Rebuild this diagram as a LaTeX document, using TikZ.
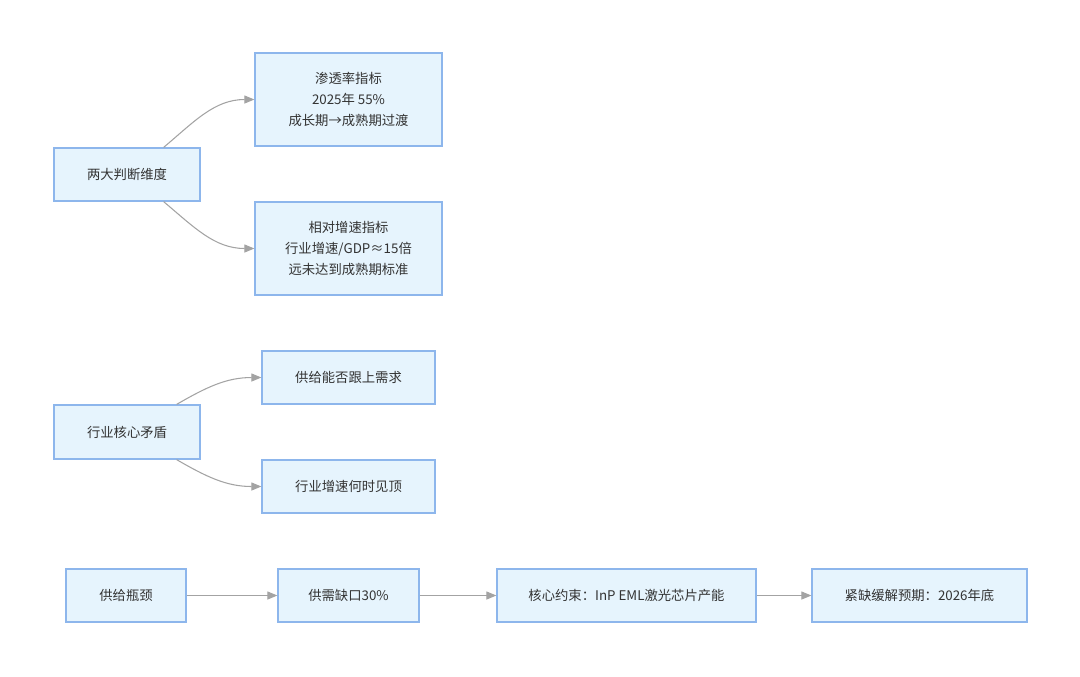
\documentclass[tikz,border=0pt]{standalone}
\usepackage{fontspec}
\setmainfont{Noto Sans CJK SC}
\usetikzlibrary{arrows.meta}
\definecolor{boxfill}{HTML}{E6F4FD}
\definecolor{boxline}{HTML}{8DB6EC}
\definecolor{arrline}{HTML}{A3A3A3}
\definecolor{txt}{HTML}{333333}

\begin{document}
\begin{tikzpicture}[x=0.75pt,y=-0.75pt,
box/.style={draw=boxline, fill=boxfill, line width=0.9pt, text=txt, align=center, inner sep=0pt,
  font=\fontsize{10}{15.75}\selectfont},
arr/.style={draw=arrline, line width=0.8pt, -{Triangle[length=7.5pt,width=6pt]}}]
\useasboundingbox (0,0) rectangle (1080,676);

% first group
\node[box, minimum width=109.5pt, minimum height=39.75pt] (dim) at (127,174.5) {两大判断维度};
\node[box, minimum width=140.25pt, minimum height=69.75pt] (pen) at (348.5,99.5)
  {渗透率指标\\2025年 55\%\\成长期→成熟期过渡};
\node[box, minimum width=140.25pt, minimum height=69.75pt] (rel) at (348.5,248.5)
  {相对增速指标\\行业增速/GDP≈15倍\\远未达到成熟期标准};
\draw[arr] ([xshift=-27.75pt]dim.north east) to[out=40,in=180] (pen.west);
\draw[arr] ([xshift=-27.75pt]dim.south east) to[out=-40,in=180] (rel.west);

% second group
\node[box, minimum width=109.5pt, minimum height=40.5pt] (core) at (127,432) {行业核心矛盾};
\node[box, minimum width=129.75pt, minimum height=39.75pt] (sup) at (348.5,377.5) {供给能否跟上需求};
\node[box, minimum width=129.75pt, minimum height=39.75pt] (top) at (348.5,486.5) {行业增速何时见顶};
\draw[arr] ([xshift=-18pt]core.north east) to[out=30,in=180] (sup.west);
\draw[arr] ([xshift=-18pt]core.south east) to[out=-30,in=180] (top.west);

% supply chain
\node[box, minimum width=90pt, minimum height=39.75pt] (bottle) at (126,595.5) {供给瓶颈};
\node[box, minimum width=105.75pt, minimum height=39.75pt] (gap) at (348.5,595.5) {供需缺口30\%};
\node[box, minimum width=194.25pt, minimum height=39.75pt] (chip) at (626.5,595.5) {核心约束：InP EML激光芯片产能};
\node[box, minimum width=161.25pt, minimum height=39.75pt] (ease) at (919.5,595.5) {紧缺缓解预期：2026年底};
\foreach \a/\b in {bottle/gap, gap/chip, chip/ease}
  \draw[arr] (\a) -- (\b);
\end{tikzpicture}
\end{document}
